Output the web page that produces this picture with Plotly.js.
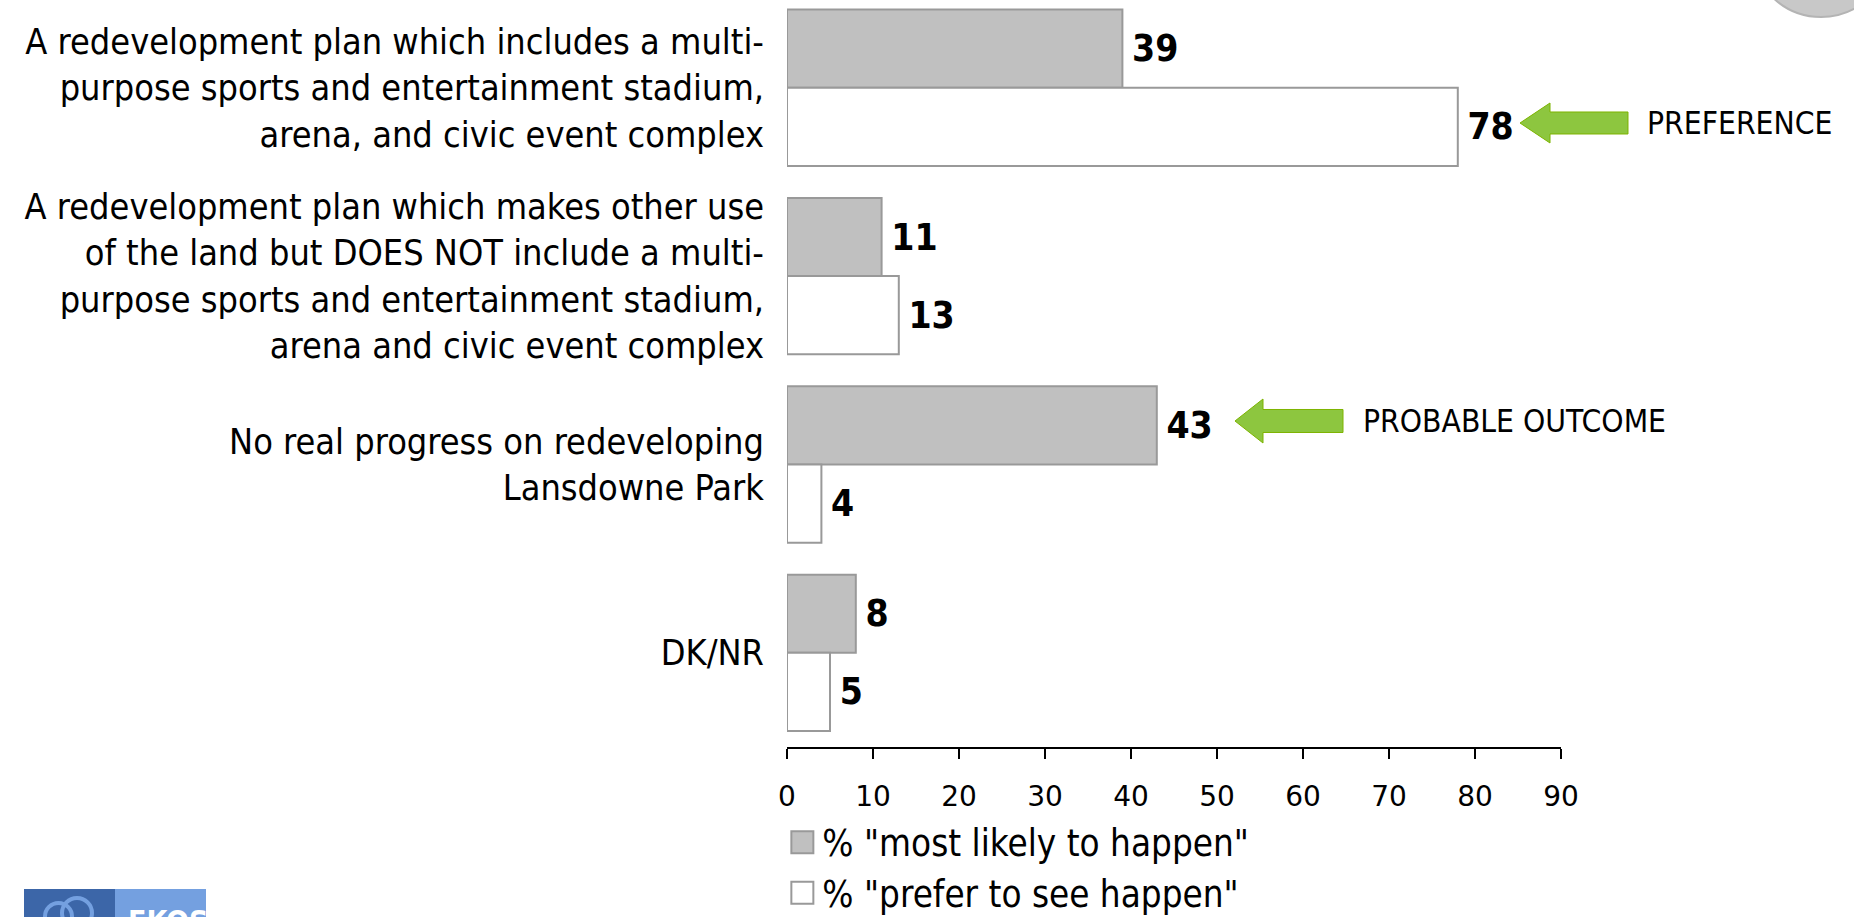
<!DOCTYPE html>
<html>
<head>
<meta charset="utf-8">
<script src="https://cdn.plot.ly/plotly-3.0.1.min.js"></script>
<style>
  html, body { margin: 0; padding: 0; background: #ffffff; overflow: hidden; }
  #chart { width: 1854px; height: 917px; }
</style>
</head>
<body>
<div id="chart"></div>
<script>
// ---- data ----
const categories = [
  "A redevelopment plan which includes a multi-<br>purpose sports and entertainment stadium,<br>arena, and civic event complex",
  "A redevelopment plan which makes other use<br>of the land but DOES NOT include a multi-<br>purpose sports and entertainment stadium,<br>arena and civic event complex",
  "No real progress on redeveloping<br>Lansdowne Park",
  "DK/NR"
];
const mostLikely = [39, 11, 43, 8];
const preferToSee = [78, 13, 4, 5];
const seriesNames = ['% "most likely to happen"', '% "prefer to see happen"'];
const xTicks = [0, 10, 20, 30, 40, 50, 60, 70, 80, 90];
const calloutLabels = ["PREFERENCE", "PROBABLE OUTCOME"];

// ---- font selection (Tahoma-like narrow face if installed) ----
function hasFont(name) {
  const ctx = document.createElement('canvas').getContext('2d');
  const s = 'abcdefghijklmnopqrstuvwxyz ABCDEFGHIJKLMNOPQRSTUVWXYZ 0123456789';
  ctx.font = '40px monospace';
  const a = ctx.measureText(s).width;
  ctx.font = '40px "' + name + '", monospace';
  const b = ctx.measureText(s).width;
  return Math.abs(a - b) > 0.5;
}
const condensed = hasFont('DejaVu Sans Condensed');
const BASE = '"DejaVu Sans", Verdana, sans-serif';
const FONT = condensed ? '"DejaVu Sans Condensed", "DejaVu Sans", sans-serif' : BASE;
const SZ = {
  cat: condensed ? 35.8 : 32.5,
  tick: 28,
  legend: condensed ? 36.5 : 33,
  value: condensed ? 37 : 36,
  callout: condensed ? 31.5 : 28.5
};

// ---- layout helpers (pixel -> paper) ----
const W = 1854, H = 917;
const ML = 787, MR = 293, MT = 0, MB = 170;
const PW = W - ML - MR, PH = H - MT - MB;
const px = v => (v - ML) / PW;
const py = v => (MT + PH - v) / PH;

function arrowPath(tipX, cy, headX, headHalf, shaftHalf, endX) {
  const pts = [
    [tipX, cy], [headX, cy - headHalf], [headX, cy - shaftHalf],
    [endX, cy - shaftHalf], [endX, cy + shaftHalf], [headX, cy + shaftHalf],
    [headX, cy + headHalf]
  ];
  return 'M' + pts.map(p => px(p[0]).toFixed(5) + ',' + py(p[1]).toFixed(5)).join(' L') + ' Z';
}

const barLine = { color: '#999999', width: 2 };
const valueFont = { family: FONT, size: SZ.value, color: '#000000', weight: 'bold' };

const traces = [
  {
    type: 'bar', orientation: 'h', name: seriesNames[0],
    y: categories, x: mostLikely,
    marker: { color: '#C0C0C0', line: barLine },
    texttemplate: '\u2009%{x}',
    textposition: 'outside', constraintext: 'none', cliponaxis: false,
    textfont: valueFont, hoverinfo: 'x+name'
  },
  {
    type: 'bar', orientation: 'h', name: seriesNames[1],
    y: categories, x: preferToSee,
    marker: { color: '#FFFFFF', line: barLine },
    texttemplate: '\u2009%{x}',
    textposition: 'outside', constraintext: 'none', cliponaxis: false,
    textfont: valueFont, hoverinfo: 'x+name'
  }
];

const green = '#8DC63F', greenLine = '#7DB400';

const layout = {
  width: W, height: H,
  margin: { l: ML, r: MR, t: MT, b: MB, pad: 0, autoexpand: false },
  paper_bgcolor: '#FFFFFF', plot_bgcolor: 'rgba(0,0,0,0)',
  font: { family: FONT, color: '#000000' },
  barmode: 'group', bargap: 0.17, bargroupgap: 0,
  showlegend: true,
  legend: {
    orientation: 'v', x: -0.006, xanchor: 'left', y: -0.087, yanchor: 'top',
    font: { family: FONT, size: SZ.legend, color: '#000000' },
    bgcolor: 'rgba(0,0,0,0)', traceorder: 'normal'
  },
  xaxis: {
    range: [0, 90], tickvals: xTicks, ticktext: xTicks.map(String),
    showgrid: false, zeroline: false,
    showline: true, linecolor: '#000000', linewidth: 1.5,
    ticks: 'outside', ticklen: 10, tickwidth: 1.5, tickcolor: '#000000',
    ticklabelstandoff: 14,
    tickfont: { family: BASE, size: SZ.tick, color: '#000000' },
    fixedrange: true
  },
  yaxis: {
    type: 'category', range: [3.5, -0.466],
    showgrid: false, zeroline: false, showline: false, ticks: '',
    ticklabelstandoff: 22,
    tickfont: { family: FONT, size: SZ.cat, color: '#000000' },
    fixedrange: true
  },
  shapes: [
    { type: 'path', xref: 'paper', yref: 'paper', path: arrowPath(1520, 123, 1550, 20, 11, 1628),
      fillcolor: green, line: { color: greenLine, width: 1 } },
    { type: 'path', xref: 'paper', yref: 'paper', path: arrowPath(1235, 421, 1263, 22, 11.5, 1343),
      fillcolor: green, line: { color: greenLine, width: 1 } },
    // partial grey badge at top right
    { type: 'circle', xref: 'paper', yref: 'paper',
      x0: px(1752), x1: px(1890), y0: py(17), y1: py(-120),
      fillcolor: '#C8C8C8', line: { color: '#B4B4B4', width: 2 } },
    // logo blocks bottom left
    { type: 'rect', xref: 'paper', yref: 'paper', x0: px(24), x1: px(115), y0: py(889), y1: py(960),
      fillcolor: '#3C66A8', line: { width: 0 } },
    { type: 'rect', xref: 'paper', yref: 'paper', x0: px(115), x1: px(206), y0: py(889), y1: py(960),
      fillcolor: '#74A0E0', line: { width: 0 } },
    { type: 'circle', xref: 'paper', yref: 'paper', x0: px(45), x1: px(72), y0: py(903), y1: py(930),
      fillcolor: 'rgba(0,0,0,0)', line: { color: '#74A0E0', width: 4 } },
    { type: 'circle', xref: 'paper', yref: 'paper', x0: px(62), x1: px(92), y0: py(898), y1: py(928),
      fillcolor: 'rgba(0,0,0,0)', line: { color: '#74A0E0', width: 4 } }
  ],
  annotations: [
    { xref: 'paper', yref: 'paper', x: px(1645), y: py(123), xanchor: 'left', yanchor: 'middle',
      text: calloutLabels[0], showarrow: false,
      font: { family: FONT, size: SZ.callout, color: '#000000' } },
    { xref: 'paper', yref: 'paper', x: px(1361), y: py(421), xanchor: 'left', yanchor: 'middle',
      text: calloutLabels[1], showarrow: false,
      font: { family: FONT, size: SZ.callout, color: '#000000' } },
    { xref: 'paper', yref: 'paper', x: px(126), y: py(902), xanchor: 'left', yanchor: 'top',
      text: '<b>EKOS</b>', showarrow: false,
      font: { family: FONT, size: 30, color: '#FFFFFF' } }
  ]
};

Plotly.newPlot('chart', traces, layout, { displayModeBar: false, staticPlot: true }).then(gd => {
  document.querySelectorAll('#chart .legendpoints path').forEach(p => {
    p.setAttribute('d', 'M11,11H-11V-11H11Z');
  });
});
</script>
</body>
</html>
